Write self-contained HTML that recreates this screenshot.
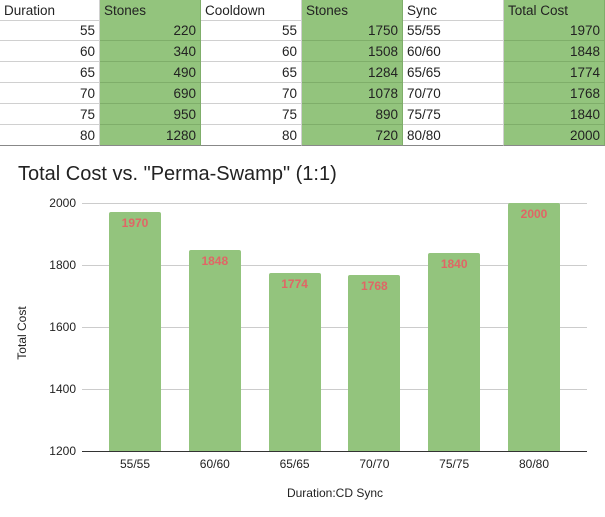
<!DOCTYPE html>
<html><head><style>
body{margin:0;width:605px;height:517px;background:#fff;font-family:"Liberation Sans",Arial,sans-serif;position:relative;overflow:hidden}
.c{position:absolute;height:21px;line-height:21px;font-size:13.5px;color:#222;box-sizing:border-box;border-right:1px solid #d0d0d0;border-bottom:1px solid #d0d0d0;padding:0 4px;white-space:nowrap}
.g{background:#93c47d;border-right-color:#7fae6a;border-bottom-color:#7fae6a}
.r{text-align:right}
.grid{position:absolute;left:82px;width:505px;height:1px;background:#ccc}
.yl{position:absolute;left:40px;width:36px;text-align:right;font-size:12px;color:#222}
.bar{position:absolute;width:52px;background:#93c47d;border-radius:2px 2px 0 0}
.bl{position:absolute;width:52px;text-align:center;font-size:12px;font-weight:bold;color:#e06666}
.xl{position:absolute;width:80px;text-align:center;font-size:12px;color:#222;top:457px}
</style></head><body>
<div id="t"></div>
<div style="position:absolute;left:18px;top:163px;font-size:20px;color:#222">Total Cost vs. "Perma-Swamp" (1:1)</div>
<div class="grid" style="top:203px"></div><div class="grid" style="top:265px"></div><div class="grid" style="top:327px"></div><div class="grid" style="top:389px"></div><div class="grid" style="top:451px;background:#333"></div>
<div class="yl" style="top:196px">2000</div><div class="yl" style="top:258px">1800</div><div class="yl" style="top:320px">1600</div><div class="yl" style="top:382px">1400</div><div class="yl" style="top:444px">1200</div>
<div style="position:absolute;left:-8px;top:326px;font-size:12px;color:#222;transform:rotate(-90deg);width:60px;text-align:center">Total Cost</div>
<div id="b"></div>
<div style="position:absolute;left:235px;width:200px;text-align:center;top:486px;font-size:12px;color:#222">Duration:CD Sync</div>
<script>
(function(){
var cols=[0,100,201,302,403,504,605];
var rows=[["Duration","Stones","Cooldown","Stones","Sync","Total Cost"],
[55,220,55,1750,"55/55",1970],[60,340,60,1508,"60/60",1848],[65,490,65,1284,"65/65",1774],
[70,690,70,1078,"70/70",1768],[75,950,75,890,"75/75",1840],[80,1280,80,720,"80/80",2000]];
var h="";
for(var i=0;i<rows.length;i++){for(var j=0;j<6;j++){
var cls="c"+((j%2==1)?" g":"")+((i>0&&j!=4)?" r":"");
var yy=i==0?0:20+(i-1)*21;
var bb=i==6?"border-bottom:1px solid #888;":"";
h+='<div class="'+cls+'" style="left:'+cols[j]+'px;top:'+yy+'px;width:'+(cols[j+1]-cols[j])+'px;'+bb+'">'+rows[i][j]+'</div>';}}
document.getElementById("t").innerHTML=h;
var v=[1970,1848,1774,1768,1840,2000],lb=["55/55","60/60","65/65","70/70","75/75","80/80"],s="";
for(var k=0;k<6;k++){var x=109+k*79.8;var ty=451-(v[k]-1200)*0.31;
s+='<div class="bar" style="left:'+x+'px;top:'+ty+'px;height:'+(451-ty)+'px"></div>';
s+='<div class="bl" style="left:'+x+'px;top:'+(ty+4)+'px">'+v[k]+'</div>';
s+='<div class="xl" style="left:'+(x-14)+'px">'+lb[k]+'</div>';}
document.getElementById("b").innerHTML=s;
})();
</script>
</body></html>
